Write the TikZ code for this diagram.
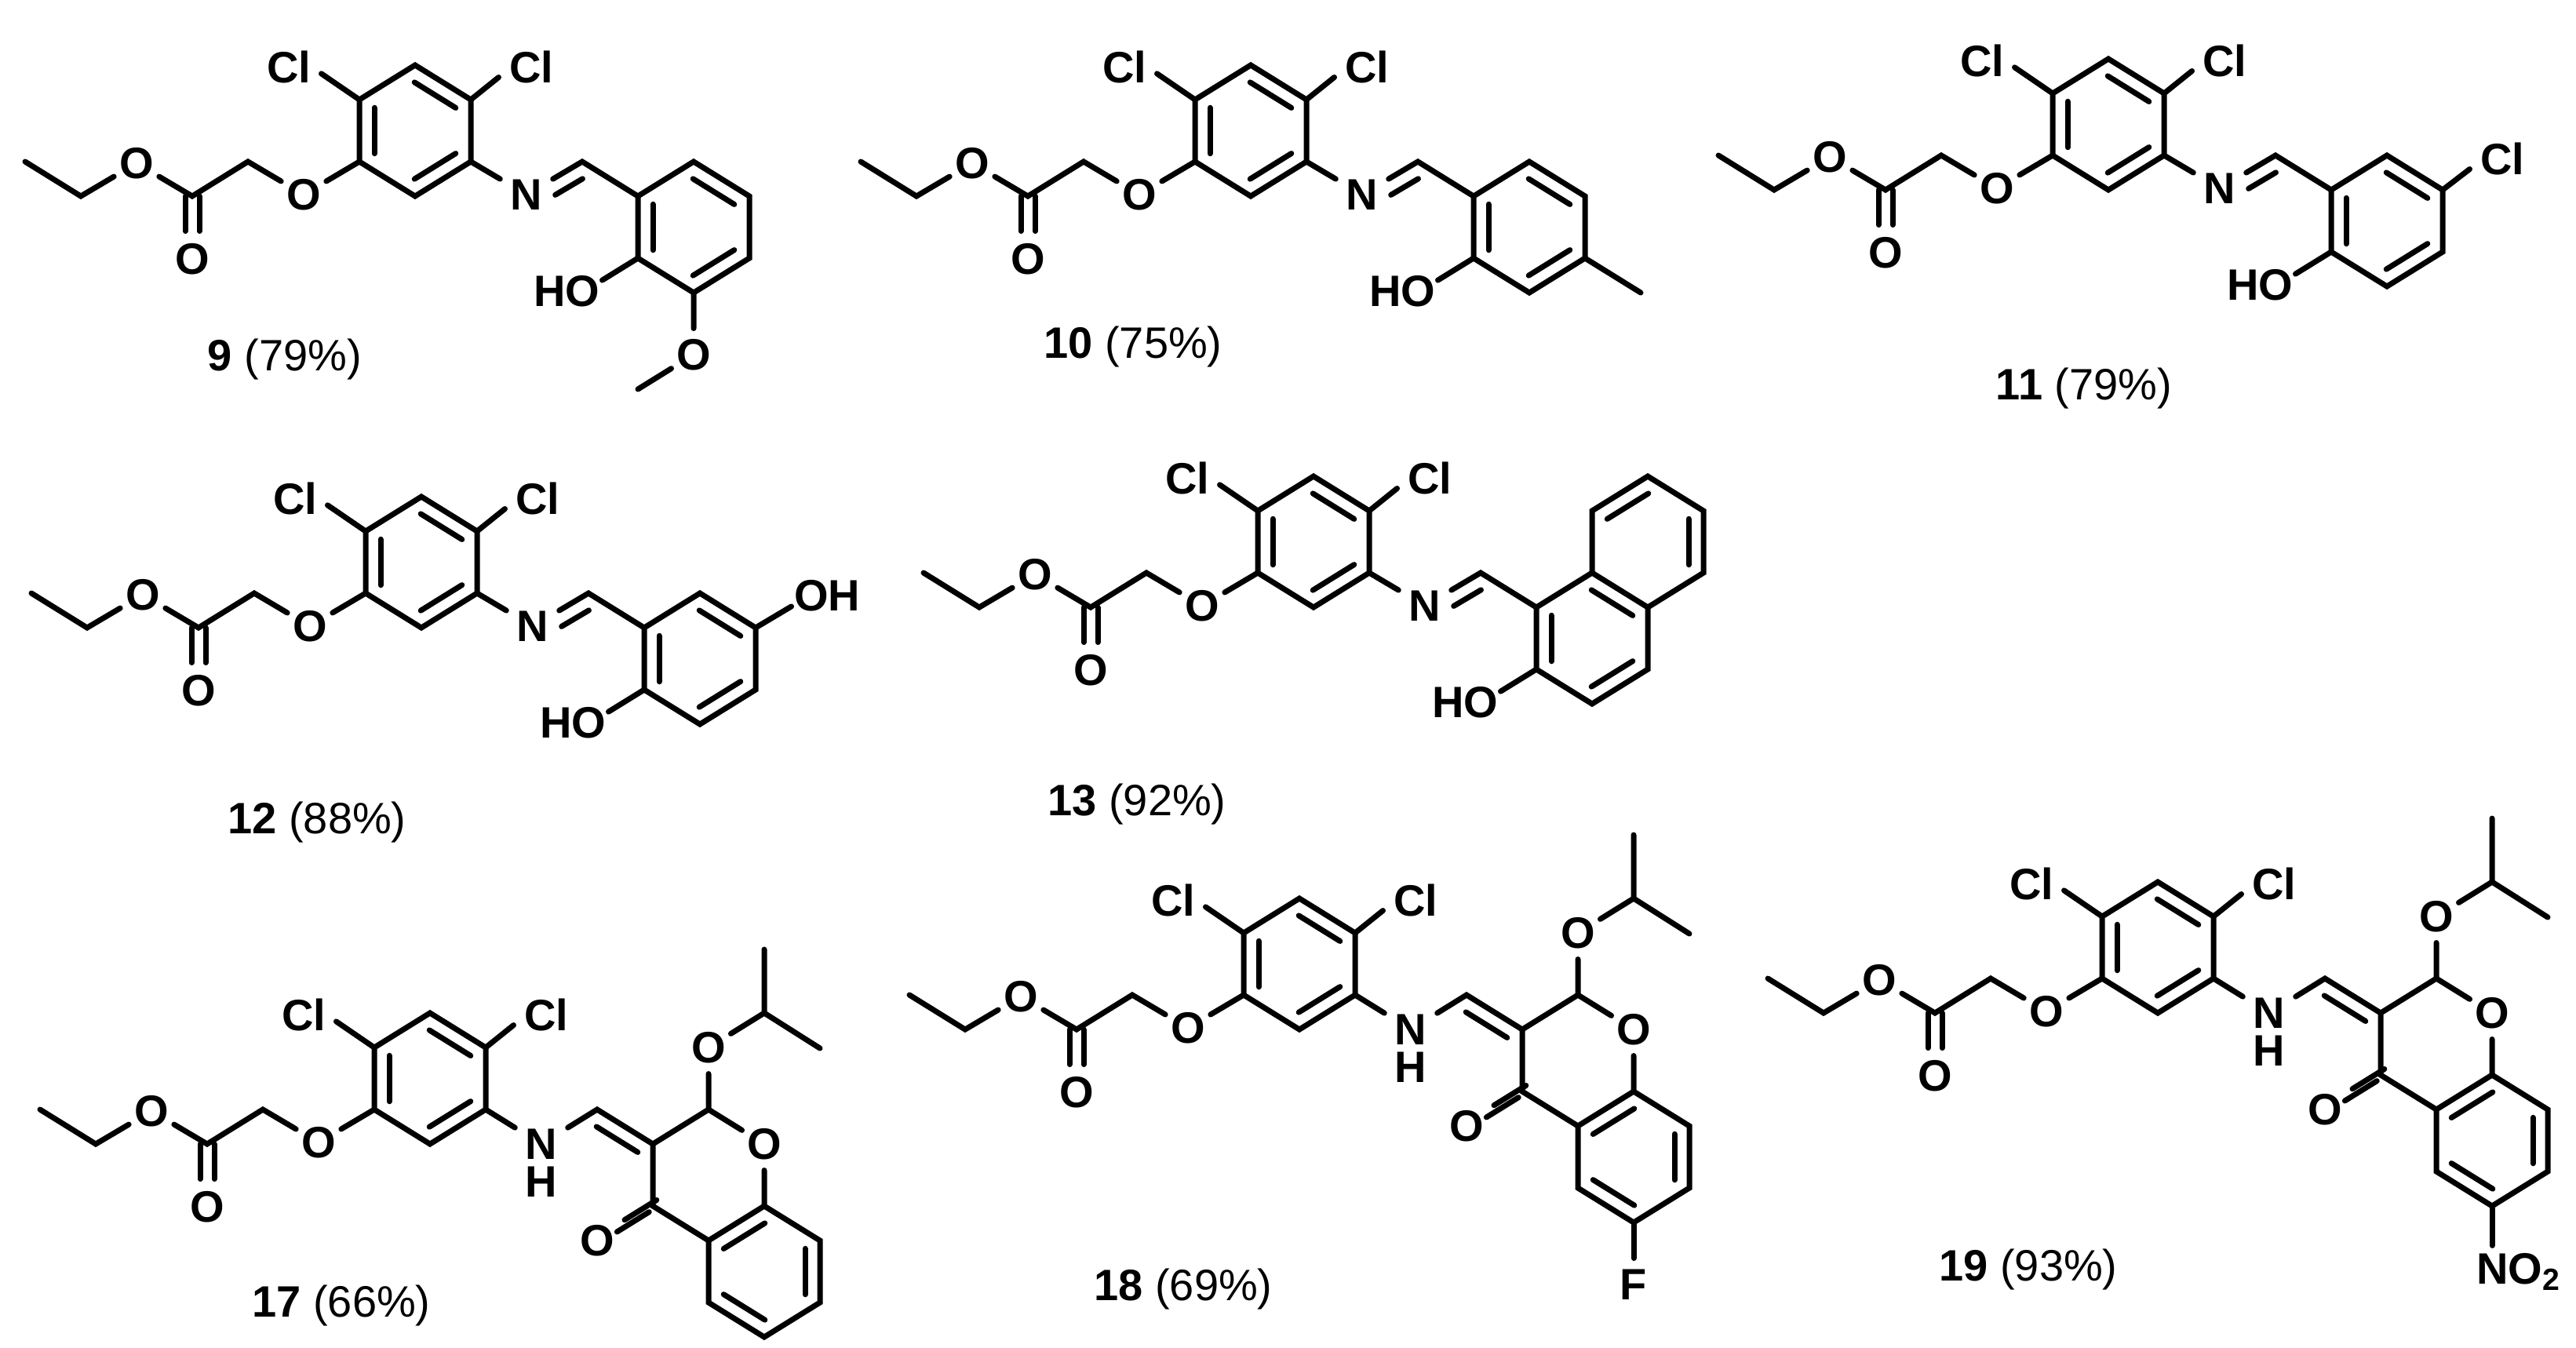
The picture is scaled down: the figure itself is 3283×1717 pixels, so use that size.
\documentclass[tikz,border=0pt]{standalone}
\usepackage{fontspec}
\setmainfont{Liberation Sans}
\usetikzlibrary{calc}
\tikzset{
	atom/.style={circle,inner sep=0pt,minimum size=15pt,font=\bfseries\fontsize{14}{16}\selectfont},
	atomgroup/.style={rectangle,inner sep=0pt,font=\bfseries\fontsize{14}{16}\selectfont},
	yieldlab/.style={anchor=base,inner sep=0pt,font=\fontsize{14}{16}\selectfont}
}
% second line of a double bond, on the left of a->b
\newcommand\inbond[3][.87]{\draw ($(#2)!.13!(#3)!4.75pt!90:(#3)$) -- ($(#2)!#1!(#3)!4.75pt!90:(#3)$);}
\newcommand\twobond[4]{
	\draw[transform canvas={shift={(#3pt,#4pt)}},shorten >=.5pt] (#1) -- (#2);
	\draw[transform canvas={shift={(-#3pt,-#4pt)}},shorten >=.5pt] (#1) -- (#2);
}
% ester arm and dichloro ring, origin at the ring's lower left carbon
\newcommand\corering{
	\coordinate (me) at (-426,0);
	\coordinate (et) at (-355,44);
	\node[atom] (oa) at (-284,2) {O};
	\coordinate (co) at (-213,44);
	\node[atom] (ob) at (-213,124) {O};
	\coordinate (ch) at (-142,0);
	\node[atom] (oc) at (-71,42) {O};
	\coordinate (ll) at (0,0);
	\coordinate (bt) at (71,44);
	\coordinate (lr) at (142,0);
	\coordinate (ur) at (142,-79);
	\coordinate (tp) at (71,-123);
	\coordinate (ul) at (0,-79);
	\node[atomgroup,inner sep=2.5pt] (cla) at (-90,-121) {Cl};
	\node[atomgroup,inner sep=2.5pt] (clb) at (219,-121) {Cl};
	\draw (me) -- (et) -- (oa) -- (co) -- (ch) -- (oc) -- (ll);
	\twobond{co}{ob}{2.25}{0}
	\draw (ll) -- (bt) -- (lr) -- (ur) -- (tp) -- (ul) -- cycle;
	\inbond{ul}{ll}
	\inbond{bt}{lr}
	\inbond{ur}{tp}
	\draw (ul) -- (cla.-12);
	\draw (ur) -- (clb.198);
}
% imine and phenol ring
\newcommand\salicyl{
	\node[atomgroup,inner xsep=2.5pt] (nn) at (213,42) {N};
	\coordinate (im) at (284,0);
	\coordinate (ra) at (355,44);
	\coordinate (rb) at (426,0);
	\coordinate (rc) at (497,44);
	\coordinate (rd) at (497,123);
	\coordinate (re) at (426,167);
	\coordinate (rf) at (355,123);
	\node[atomgroup] (ho) at (264,165) {HO};
	\draw (lr) -- (nn) -- (im) -- (ra);
	\draw (ra) -- (rb) -- (rc) -- (rd) -- (re) -- (rf) -- cycle;
	\inbond[.62]{im}{nn}
	\inbond{ra}{rf}
	\inbond{re}{rd}
	\inbond{rc}{rb}
	\draw (rf) -- (ho.17);
}
% enamine and chromanone
\newcommand\chromene{
	\node[atomgroup,inner xsep=2.5pt] (nn) at (213,44) {N};
	\node[atomgroup] (hh) at (213,92) {H};
	\coordinate (im) at (284,0);
	\coordinate (c3) at (355,44);
	\coordinate (c2) at (426,0);
	\node[atom] (or) at (497,44) {O};
	\node[atom] (oi) at (426,-79) {O};
	\coordinate (ip) at (497,-123);
	\coordinate (ma) at (497,-204);
	\coordinate (mb) at (568,-78);
	\coordinate (c4) at (355,123);
	\node[atom] (ok) at (284,167) {O};
	\coordinate (ca) at (426,167);
	\coordinate (c5) at (426,246);
	\coordinate (c6) at (497,290);
	\coordinate (c7) at (568,246);
	\coordinate (c8) at (568,167);
	\coordinate (cb) at (497,123);
	\draw (lr) -- (nn);
	\draw (nn) -- (im) -- (c3) -- (c2) -- (or) -- (cb);
	\draw (c2) -- (oi) -- (ip) -- (ma);
	\draw (ip) -- (mb);
	\draw (c3) -- (c4) -- (ca);
	\twobond{c4}{ok}{1.2}{1.9}
	\draw (ca) -- (c5) -- (c6) -- (c7) -- (c8) -- (cb) -- cycle;
	\inbond{c3}{im}
	\inbond{c5}{c6}
	\inbond{c7}{c8}
	\inbond{cb}{ca}
}
\begin{document}
\begin{tikzpicture}[x=.25pt,y=-.25pt,line width=1.75pt,line cap=round]
	\useasboundingbox (0,0) rectangle (3283,1717);
	\begin{scope}[shift={(458,206)},name prefix=mnine-]
		\corering
		\salicyl
		\node[atom] (om) at (426,246) {O};
		\coordinate (mo) at (355,290);
		\draw (re) -- (om) -- (mo);
	\end{scope}
	\node[yieldlab] (lnine) at (363,472) {\textbf{9} (79\%)};
	\begin{scope}[shift={(1523,206)},name prefix=mten-]
		\corering
		\salicyl
		\coordinate (mo) at (568,167);
		\draw (rd) -- (mo);
	\end{scope}
	\node[yieldlab] (lten) at (1444,456) {\textbf{10} (75\%)};
	\begin{scope}[shift={(2616,198)},name prefix=mele-]
		\corering
		\salicyl
		\node[atomgroup,inner sep=2.5pt] (clc) at (573,4) {Cl};
		\draw (rc) -- (clc.198);
	\end{scope}
	\node[yieldlab] (lele) at (2656,509) {\textbf{11} (79\%)};
	\begin{scope}[shift={(466,756)},name prefix=mtwe-]
		\corering
		\salicyl
		\node[atomgroup] (oh) at (588,3) {OH};
		\draw (rc) -- (oh.197);
	\end{scope}
	\node[yieldlab] (ltwe) at (404,1062) {\textbf{12} (88\%)};
	\begin{scope}[shift={(1603,730)},name prefix=mthi-]
		\corering
		\salicyl
		\coordinate (ua) at (426,-79);
		\coordinate (ub) at (497,-123);
		\coordinate (uc) at (568,-79);
		\coordinate (ud) at (568,0);
		\draw (rb) -- (ua) -- (ub) -- (uc) -- (ud) -- (rc);
		\inbond{ub}{ua}
		\inbond{ud}{uc}
	\end{scope}
	\node[yieldlab] (lthi) at (1449,1039) {\textbf{13} (92\%)};
	\begin{scope}[shift={(477,1414)},name prefix=msev-]
		\corering
		\chromene
	\end{scope}
	\node[yieldlab] (lsev) at (435,1678) {\textbf{17} (66\%)};
	\begin{scope}[shift={(1585,1268)},name prefix=meig-]
		\corering
		\chromene
		\node[atom] (fl) at (497,369) {F};
		\draw (c6) -- (fl);
	\end{scope}
	\node[yieldlab] (leig) at (1508,1657) {\textbf{18} (69\%)};
	\begin{scope}[shift={(2679,1247)},name prefix=mnin-]
		\corering
		\chromene
		\node[atomgroup,anchor=base west] (no) at (474,389) {NO\textsubscript{2}};
		\draw[shorten >=1.5pt] (c6) -- (c6 |- no.north);
	\end{scope}
	\node[yieldlab] (lnin) at (2585,1632) {\textbf{19} (93\%)};
\end{tikzpicture}
\end{document}
